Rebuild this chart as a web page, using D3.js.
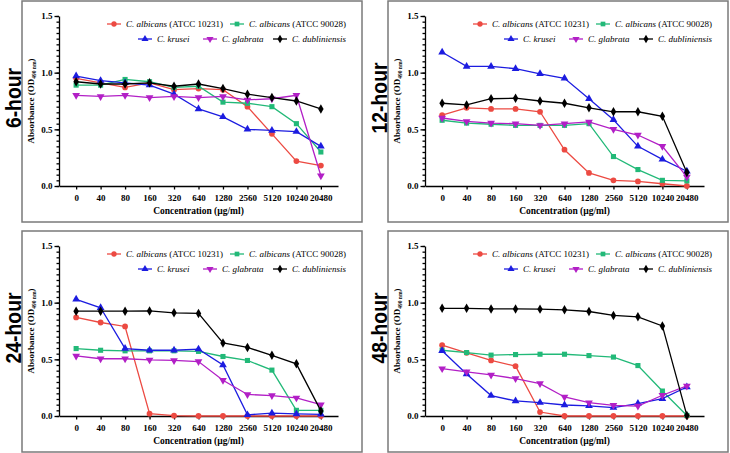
<!DOCTYPE html>
<html>
<head>
<meta charset="utf-8">
<script src="https://cdn.jsdelivr.net/npm/d3@7"></script>
<style>
  body { margin: 0; background: #fff; }
</style>
</head>
<body>
<svg width="730" height="453"></svg>
<script>
// categories on the x axis
var concentrations = ["0","40","80","160","320","640","1280","2560","5120","10240","20480"]
var yTicks = [0, 0.5, 1.0, 1.5]
var panelNames = ["6-hour","12-hour","24-hour","48-hour"]

// series, one array per panel
var albicans10231 = [
  [0.95,0.91,0.87,0.91,0.85,0.86,0.85,0.70,0.46,0.22,0.18],
  [0.625,0.69,0.68,0.68,0.655,0.32,0.115,0.05,0.04,0.02,0.0],
  [0.87,0.825,0.79,0.02,0.003,0.0,0.0,0.0,0.0,0.0,0.0],
  [0.625,0.557,0.49,0.44,0.035,0.0,0.0,0.0,0.0,0.0,0.0]
]
var albicans90028 = [
  [0.89,0.89,0.94,0.92,0.87,0.88,0.74,0.73,0.70,0.55,0.30],
  [0.58,0.555,0.545,0.535,0.535,0.535,0.55,0.26,0.145,0.05,0.045],
  [0.595,0.58,0.575,0.575,0.575,0.57,0.525,0.49,0.405,0.05,0.05],
  [0.58,0.56,0.537,0.542,0.545,0.545,0.533,0.52,0.445,0.22,0.005]
]
var krusei = [
  [0.97,0.93,0.91,0.89,0.81,0.68,0.61,0.50,0.49,0.48,0.35],
  [1.18,1.055,1.055,1.035,0.99,0.95,0.77,0.585,0.35,0.235,0.13],
  [1.03,0.955,0.595,0.58,0.58,0.59,0.45,0.01,0.025,0.018,0.015],
  [0.575,0.37,0.18,0.133,0.118,0.097,0.09,0.074,0.11,0.153,0.256]
]
var glabrata = [
  [0.80,0.79,0.80,0.78,0.79,0.78,0.79,0.76,0.77,0.80,0.09],
  [0.60,0.57,0.555,0.55,0.535,0.55,0.565,0.50,0.45,0.35,0.08],
  [0.53,0.505,0.505,0.495,0.49,0.48,0.315,0.19,0.18,0.16,0.10],
  [0.418,0.39,0.362,0.33,0.286,0.168,0.118,0.094,0.088,0.183,0.265]
]
var dubliniensis = [
  [0.92,0.90,0.90,0.91,0.88,0.90,0.86,0.81,0.78,0.75,0.68],
  [0.73,0.715,0.77,0.775,0.75,0.73,0.69,0.655,0.655,0.615,0.12],
  [0.925,0.925,0.925,0.927,0.91,0.905,0.645,0.605,0.535,0.46,0.045],
  [0.95,0.95,0.945,0.945,0.943,0.937,0.922,0.887,0.875,0.795,0.005]
]

var seriesInfo = [
  { sp: "C. albicans", tag: " (ATCC 10231)", data: albicans10231, color: "#ec4a42", sym: d3.symbolCircle, flip: false },
  { sp: "C. albicans", tag: " (ATCC 90028)", data: albicans90028, color: "#22b978", sym: d3.symbolSquare, flip: false },
  { sp: "C. krusei", tag: "", data: krusei, color: "#1c1ce0", sym: d3.symbolTriangle, flip: false },
  { sp: "C. glabrata", tag: "", data: glabrata, color: "#b21fc6", sym: d3.symbolTriangle, flip: true },
  { sp: "C. dubliniensis", tag: "", data: dubliniensis, color: "#000000", sym: d3.symbolDiamond, flip: false }
]

// where the legend entries sit inside a panel
var legendPos = [[85,23],[208,23],[116,38],[181,38],[251,38]]

var panelOrigins = [[22,1],[388,1],[22,231],[388,231]]

var serif = "'Liberation Serif', 'Times New Roman', serif"
var svg = d3.select("svg")

panelOrigins.forEach(function (o, pi) {
  var px = o[0], py = o[1]
  var g = svg.append("g").attr("transform", "translate(" + px + "," + py + ")")
    .style("font-family", serif)

  g.append("rect").attr("x", 0).attr("y", 0).attr("width", 340).attr("height", 221)
    .attr("fill", "none").attr("stroke", "#7a7a7a").attr("stroke-width", 1.5)

  var x = d3.scalePoint().domain(concentrations).range([37, 316]).padding(0.7)
  var y = d3.scaleLinear().domain([0, 1.5]).range([185, 15])

  // y axis, minor ticks every 0.05
  var minor = d3.range(0, 1.5001, 0.05)
  var yg = g.append("g").attr("transform", "translate(37,0)")
  yg.append("g").call(d3.axisLeft(y).tickValues(minor).tickSize(2.5).tickFormat(""))
    .call(function (a) { a.select(".domain").remove() })
  yg.append("g").call(d3.axisLeft(y).tickValues(yTicks).tickSize(4.5).tickSizeOuter(0).tickFormat(d3.format(".1f")))
  yg.selectAll("line, path").attr("stroke", "#000").attr("stroke-width", 1.3)
  yg.selectAll("text").style("font-family", serif).style("font-size", "9px")
    .style("font-weight", "bold").attr("dx", 1)

  var xg = g.append("g").attr("transform", "translate(0,185)")
  xg.call(d3.axisBottom(x).tickSize(3.5).tickSizeOuter(0))
  xg.selectAll("line, path").attr("stroke", "#000").attr("stroke-width", 1.3)
  xg.selectAll("text").style("font-family", serif).style("font-size", "9px")
    .style("font-weight", "bold").attr("dy", "0.9em")

  g.append("text").attr("x", (37 + 316) / 2).attr("y", 213).attr("text-anchor", "middle")
    .style("font-size", "9.5px").style("font-weight", "bold").text("Concentration (\u00b5g/ml)")

  var yl = g.append("text").attr("transform", "translate(12," + ((185 + 15) / 2) + ") rotate(-90)")
    .attr("text-anchor", "middle").style("font-size", "9px").style("font-weight", "bold")
  yl.append("tspan").text("Absorbance (OD")
  yl.append("tspan").style("font-size", "5.5px").attr("dy", 2).text("490 nm")
  yl.append("tspan").attr("dy", -2).text(")")

  // big panel label, slightly condensed
  svg.append("text")
    .attr("transform", "translate(" + (px - 1) + "," + (py + 97) + ") rotate(-90) scale(0.88,1)")
    .attr("text-anchor", "middle")
    .style("font-family", "'Liberation Sans', Arial, sans-serif")
    .style("font-weight", "bold").style("font-size", "22px").attr("fill", "#000")
    .text(panelNames[pi])

  var line = d3.line().x(function (d, i) { return x(concentrations[i]) }).y(function (d) { return y(d) })

  seriesInfo.forEach(function (s) {
    var vals = s.data[pi]
    g.append("path").datum(vals).attr("d", line).attr("fill", "none")
      .attr("stroke", s.color).attr("stroke-width", 1.3)
    g.selectAll(null).data(vals).enter().append("path")
      .attr("d", d3.symbol(s.sym, 26))
      .attr("transform", function (d, i) {
        return "translate(" + x(concentrations[i]) + "," + y(d) + ")" + (s.flip ? " rotate(180)" : "")
      })
      .attr("fill", s.color)
  })

  // legend
  seriesInfo.forEach(function (s, si) {
    var lx = legendPos[si][0], ly = legendPos[si][1]
    var lg = g.append("g").attr("transform", "translate(" + lx + "," + ly + ")")
    lg.append("line").attr("x1", 0).attr("x2", 14).attr("stroke", s.color).attr("stroke-width", 1.3)
    lg.append("path").attr("d", d3.symbol(s.sym, 22))
      .attr("transform", "translate(7,0)" + (s.flip ? " rotate(180)" : ""))
      .attr("fill", s.color)
    var t = lg.append("text").attr("x", 19).attr("y", 3.2).style("font-size", "9px")
    t.append("tspan").style("font-style", "italic").text(s.sp)
    if (s.tag) t.append("tspan").text(s.tag)
  })
})
</script>
</body>
</html>
